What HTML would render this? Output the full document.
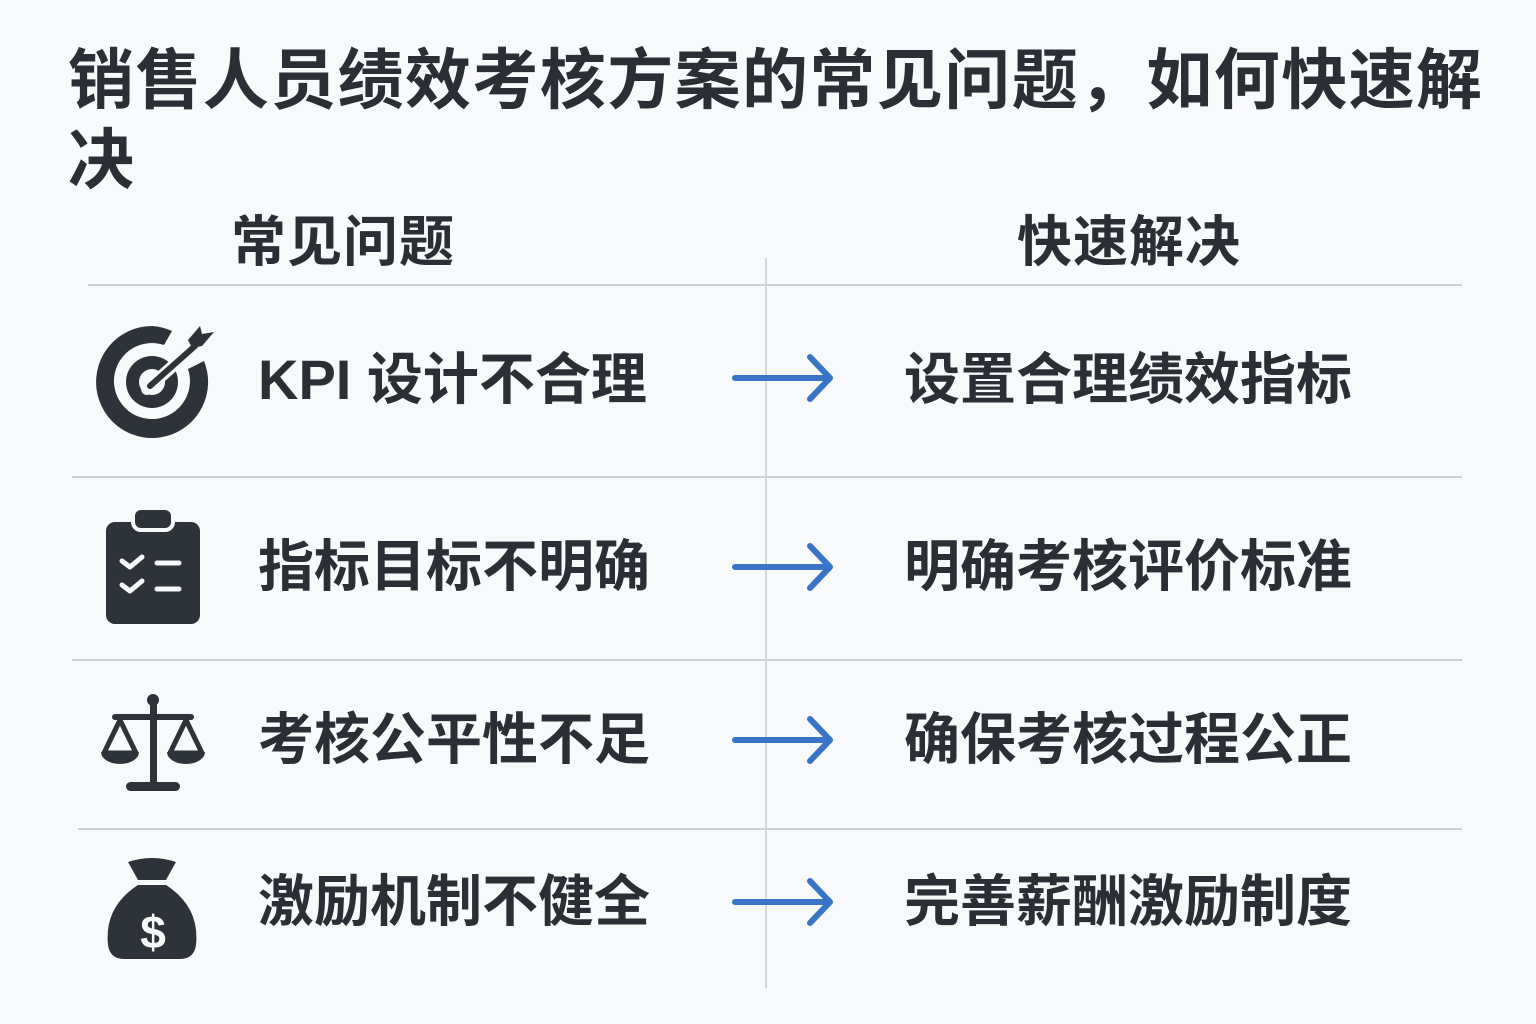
<!DOCTYPE html>
<html><head><meta charset="utf-8"><style>
html,body{margin:0;padding:0;}
body{width:1536px;height:1024px;background:#f8f9fa;position:relative;overflow:hidden;font-family:"Liberation Sans","Noto Sans CJK SC",sans-serif;color:#2a2f35;}
.t{position:absolute;white-space:nowrap;font-weight:bold;}
.h{position:absolute;background:#cdd1d5;height:2px;}
</style></head><body>
<div class="t" style="left:68px;top:40px;font-size:66px;line-height:80px;letter-spacing:1.4px;">销售人员绩效考核方案的常见问题，如何快速解<br>决</div>
<div class="t" style="left:231px;top:210px;font-size:55px;line-height:64px;letter-spacing:1px;">常见问题</div>
<div class="t" style="left:1017px;top:210px;font-size:55px;line-height:64px;letter-spacing:1px;">快速解决</div>
<div style="position:absolute;left:765px;top:258px;width:2px;height:730px;background:#d3d6da;"></div>
<div class="h" style="left:88px;top:284px;width:1374px;"></div>
<div class="h" style="left:72px;top:476px;width:1390px;"></div>
<div class="h" style="left:72px;top:659px;width:1390px;"></div>
<div class="h" style="left:78px;top:828px;width:1384px;"></div>

<div class="t" style="left:258px;top:348px;font-size:56px;line-height:64px;">KPI 设计不合理</div>
<div class="t" style="left:258px;top:535px;font-size:56px;line-height:64px;">指标目标不明确</div>
<div class="t" style="left:258px;top:708px;font-size:56px;line-height:64px;">考核公平性不足</div>
<div class="t" style="left:258px;top:870px;font-size:56px;line-height:64px;">激励机制不健全</div>
<div class="t" style="left:904px;top:348px;font-size:56px;line-height:64px;">设置合理绩效指标</div>
<div class="t" style="left:904px;top:535px;font-size:56px;line-height:64px;">明确考核评价标准</div>
<div class="t" style="left:904px;top:708px;font-size:56px;line-height:64px;">确保考核过程公正</div>
<div class="t" style="left:904px;top:870px;font-size:56px;line-height:64px;">完善薪酬激励制度</div>

<svg width="1536" height="1024" style="position:absolute;left:0;top:0;">
<g stroke="#3a74c6" stroke-width="6" fill="none" stroke-linecap="round" stroke-linejoin="round">
<path d="M735 378H830M810 357L830 378L810 399"/>
<path d="M735 567H830M810 546L830 567L810 588"/>
<path d="M735 740H830M810 719L830 740L810 761"/>
<path d="M735 902H830M810 881L830 902L810 923"/>
</g>
<g fill="#2d3338" stroke="none">
<path d="M152 326a56 56 0 1 0 52 35l-16 8a38 38 0 1 1 -24 -24l8 -14a56 56 0 0 0 -20 -5z" />
<circle cx="152" cy="382" r="26"/>
<circle cx="152" cy="382" r="13" fill="#f8f9fa"/>
<path d="M147 389l45 -40" stroke="#f8f9fa" stroke-width="12" stroke-linecap="round"/>
<path d="M150 386l45 -40" stroke="#2d3338" stroke-width="6" stroke-linecap="round"/>
<path d="M188 340l12 -14l2 8l12 -2l-12 14l-10 2z"/>
<rect x="106" y="522" width="94" height="102" rx="9"/>
<rect x="133" y="508" width="40" height="22" rx="8" stroke="#f8f9fa" stroke-width="4"/>
<g stroke="#f8f9fa" stroke-width="5" fill="none" stroke-linecap="round" stroke-linejoin="round">
<path d="M122 561l8 6l12 -10M122 585l8 6l12 -10"/><path d="M157 563h22M157 589h22"/>
</g>
<circle cx="153" cy="700" r="6"/>
<rect x="150" y="700" width="7" height="84"/>
<rect x="112" y="714" width="82" height="6" rx="3"/>
<rect x="126" y="782" width="54" height="9" rx="4.5"/>
<g stroke="#2d3338" stroke-width="5" fill="none" stroke-linejoin="round">
<path d="M120 720L104 753H136Z"/><path d="M186 720L170 753H202Z"/></g>
<path d="M101 752h38a19 12 0 0 1 -38 0z"/><path d="M167 752h38a19 12 0 0 1 -38 0z"/>
<path d="M128 862q24 -8 48 0l-10 18h-28z"/>
<path d="M138 885h28q34 22 30 60q-2 14 -16 14h-56q-14 0 -16 -14q-4 -38 30 -60z"/>
<text x="153" y="948" font-family="Liberation Sans" font-weight="bold" font-size="46" fill="#f8f9fa" text-anchor="middle">$</text>
</g>
</svg>
</body></html>
